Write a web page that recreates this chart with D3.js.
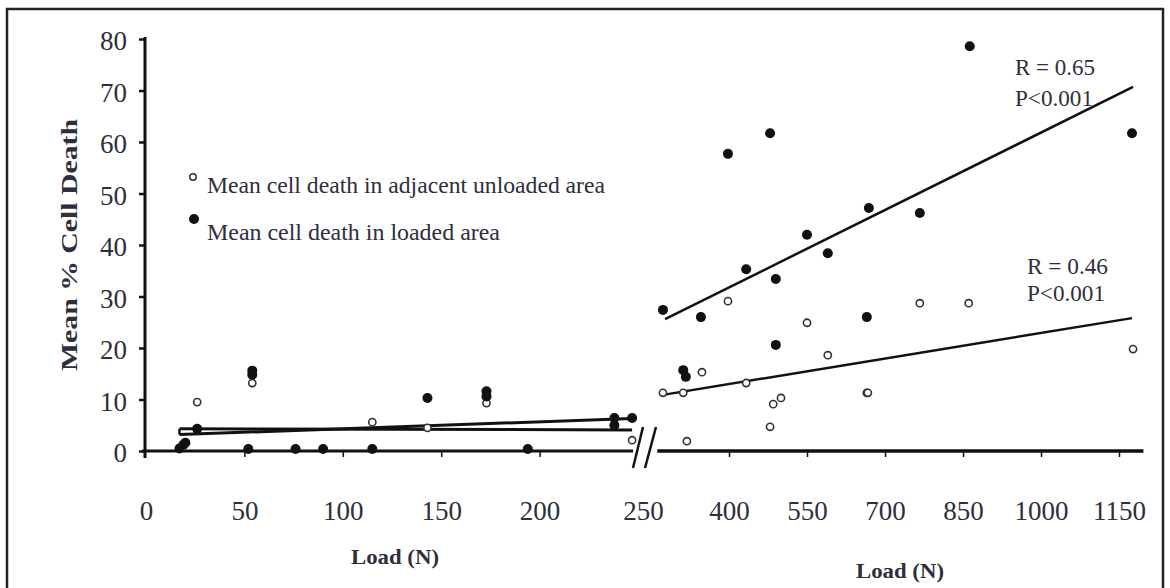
<!DOCTYPE html>
<html>
<head>
<meta charset="utf-8">
<script src="https://cdn.jsdelivr.net/npm/d3@7"></script>
<style>
  body { margin: 0; background: #fff; }
  svg { display: block; }
</style>
</head>
<body>
<script>
// ---- data ----
// left panel: load 0-250 N
const loadedLeft = [
  [17, 0.5], [19, 1.2], [20, 1.6], [26, 4.3], [52, 0.4], [54, 15.6], [54, 14.8],
  [76, 0.4], [90, 0.4], [115, 0.4], [143, 10.3], [173, 11.6], [173, 10.6],
  [194, 0.4], [238, 6.4], [238, 5.0], [247, 6.4]
];
const unloadedLeft = [
  [26, 9.5], [54, 13.2], [115, 5.6], [143, 4.5], [173, 9.3], [247, 2.1]
];
// right panel: load 250-1150 N
const loadedRight = [
  [273, 27.4], [312, 15.7], [317, 14.4], [346, 26], [398, 57.7], [433, 35.3],
  [479, 61.7], [490, 33.4], [490, 20.6], [550, 42], [590, 38.4], [665, 26],
  [669, 47.2], [767, 46.2], [863, 78.6], [1175, 61.7]
];
const unloadedRight = [
  [273, 11.3], [312, 11.3], [319, 1.9], [348, 15.3], [398, 29.1], [433, 13.2],
  [479, 4.7], [485, 9.1], [500, 10.3], [550, 24.9], [590, 18.6], [665, 11.3],
  [667, 11.3], [767, 28.7], [861, 28.7], [1177, 19.8]
];
// fitted lines
const fitLoadedLeft = [[17, 3.2], [247, 6.3]];
const fitUnloadedLeft = [[17, 4.3], [247, 4.1]];
const fitLoadedRight = [[277, 25.6], [1177, 70.7]];
const fitUnloadedRight = [[273, 10.9], [1175, 25.8]];

const yTicks = [0, 10, 20, 30, 40, 50, 60, 70, 80];
const xTicksLeft = [0, 50, 100, 150, 200, 250];
const xTicksRight = [400, 550, 700, 850, 1000, 1150];

const width = 1170, height = 588;
const serif = "'Liberation Serif', 'Times New Roman', serif";
const ink = "#111";
const textCol = "#2e2e3c";

const svg = d3.select("body").append("svg")
    .attr("width", width)
    .attr("height", height)
    .attr("font-family", serif);

// outer frame
svg.append("rect")
    .attr("x", 7).attr("y", 9)
    .attr("width", 1156).attr("height", 600)
    .attr("fill", "none")
    .attr("stroke", "#222")
    .attr("stroke-width", 2.5);

const y = d3.scaleLinear().domain([0, 80]).range([451, 39]);
const xL = d3.scaleLinear().domain([0, 250]).range([146, 638]);
const xR = d3.scaleLinear().domain([250, 1150]).range([651, 1119]);

// y axis
const yAxis = svg.append("g")
    .attr("transform", "translate(145,0)")
    .call(d3.axisLeft(y).tickValues(yTicks).tickSize(6).tickPadding(12))
    .attr("font-family", serif);
yAxis.select(".domain").remove();
yAxis.selectAll(".tick line").attr("stroke", ink).attr("stroke-width", 2.5);
yAxis.selectAll(".tick text")
    .attr("font-size", 27)
    .attr("fill", textCol)
    .attr("dy", "0.4em");
svg.append("line")
    .attr("x1", 145).attr("x2", 145)
    .attr("y1", 37).attr("y2", 458)
    .attr("stroke", ink).attr("stroke-width", 3);

// x axes (broken)
function xAxis(scale, ticks) {
  const g = svg.append("g")
      .attr("transform", "translate(0,451)")
      .call(d3.axisBottom(scale).tickValues(ticks).tickFormat(d3.format("d"))
        .tickSize(6).tickPadding(44))
      .attr("font-family", serif);
  g.select(".domain").remove();
  g.selectAll(".tick line").attr("stroke", ink).attr("stroke-width", 1.5);
  g.selectAll(".tick text").attr("font-size", 27).attr("fill", textCol);
  return g;
}
const gL = xAxis(xL, xTicksLeft);
gL.selectAll(".tick").filter(d => d === 0 || d === 250).select("line").remove();
gL.selectAll(".tick").filter(d => d === 250).select("text").attr("dx", 5);
xAxis(xR, xTicksRight);

svg.append("line")
    .attr("x1", xL(-2)).attr("x2", xL(247.5))
    .attr("y1", 451).attr("y2", 451)
    .attr("stroke", ink).attr("stroke-width", 3);
svg.append("line")
    .attr("x1", xR(262)).attr("x2", xR(1197))
    .attr("y1", 451).attr("y2", 451)
    .attr("stroke", ink).attr("stroke-width", 3.5);
// break marks
[[633, 643], [645, 656]].forEach(([a, b]) => {
  svg.append("line")
      .attr("x1", a).attr("y1", 468)
      .attr("x2", b).attr("y2", 427)
      .attr("stroke", ink).attr("stroke-width", 2.5);
});

// fit lines
const lineL = d3.line().x(d => xL(d[0])).y(d => y(d[1]));
const lineR = d3.line().x(d => xR(d[0])).y(d => y(d[1]));
[fitLoadedLeft, fitUnloadedLeft].forEach(f => {
  svg.append("path").attr("d", lineL(f))
      .attr("fill", "none").attr("stroke", ink).attr("stroke-width", 3);
});
[fitLoadedRight, fitUnloadedRight].forEach(f => {
  svg.append("path").attr("d", lineR(f))
      .attr("fill", "none").attr("stroke", ink).attr("stroke-width", 2.5);
});
// small bracket at the start of the left fits
svg.append("line")
    .attr("x1", xL(17)).attr("x2", xL(17))
    .attr("y1", y(4.3)).attr("y2", y(3.2))
    .attr("stroke", ink).attr("stroke-width", 2.5);

// points
function openPts(data, x) {
  svg.append("g").selectAll("circle").data(data).join("circle")
      .attr("cx", d => x(d[0])).attr("cy", d => y(d[1]))
      .attr("r", 3.6)
      .attr("fill", "#fff")
      .attr("stroke", "#333")
      .attr("stroke-width", 1.6);
}
function filledPts(data, x) {
  svg.append("g").selectAll("circle").data(data).join("circle")
      .attr("cx", d => x(d[0])).attr("cy", d => y(d[1]))
      .attr("r", 5)
      .attr("fill", ink);
}
openPts(unloadedLeft, xL);
filledPts(loadedLeft, xL);
openPts(unloadedRight, xR);
filledPts(loadedRight, xR);

// legend
svg.append("circle").attr("cx", 193).attr("cy", 177).attr("r", 3.2)
    .attr("fill", "#fff").attr("stroke", "#333").attr("stroke-width", 1.5);
svg.append("circle").attr("cx", 194).attr("cy", 219).attr("r", 5).attr("fill", ink);
svg.append("text").attr("x", 207).attr("y", 193)
    .attr("font-size", 24).attr("fill", textCol)
    .attr("textLength", 398).attr("lengthAdjust", "spacingAndGlyphs")
    .text("Mean cell death in adjacent unloaded area");
svg.append("text").attr("x", 207).attr("y", 240)
    .attr("font-size", 24).attr("fill", textCol)
    .attr("textLength", 293).attr("lengthAdjust", "spacingAndGlyphs")
    .text("Mean cell death in loaded area");

// stats labels
function stat(x, yy, t, len) {
  svg.append("text").attr("x", x).attr("y", yy)
      .attr("font-size", 24).attr("fill", textCol)
      .attr("textLength", len).attr("lengthAdjust", "spacingAndGlyphs")
      .text(t);
}
stat(1015, 75, "R = 0.65", 80);
stat(1015, 106, "P<0.001", 78);
stat(1027, 274, "R = 0.46", 81);
stat(1027, 301, "P<0.001", 78);

// axis titles
svg.append("text")
    .attr("transform", "translate(77,245) rotate(-90)")
    .attr("text-anchor", "middle")
    .attr("font-size", 24).attr("font-weight", "bold").attr("fill", textCol)
    .attr("textLength", 252).attr("lengthAdjust", "spacingAndGlyphs")
    .text("Mean % Cell Death");
svg.append("text")
    .attr("x", 395).attr("y", 564)
    .attr("text-anchor", "middle")
    .attr("font-size", 21).attr("font-weight", "bold").attr("fill", textCol)
    .attr("textLength", 88).attr("lengthAdjust", "spacingAndGlyphs")
    .text("Load (N)");
svg.append("text")
    .attr("x", 900).attr("y", 578)
    .attr("text-anchor", "middle")
    .attr("font-size", 21).attr("font-weight", "bold").attr("fill", textCol)
    .attr("textLength", 88).attr("lengthAdjust", "spacingAndGlyphs")
    .text("Load (N)");
</script>
</body>
</html>
